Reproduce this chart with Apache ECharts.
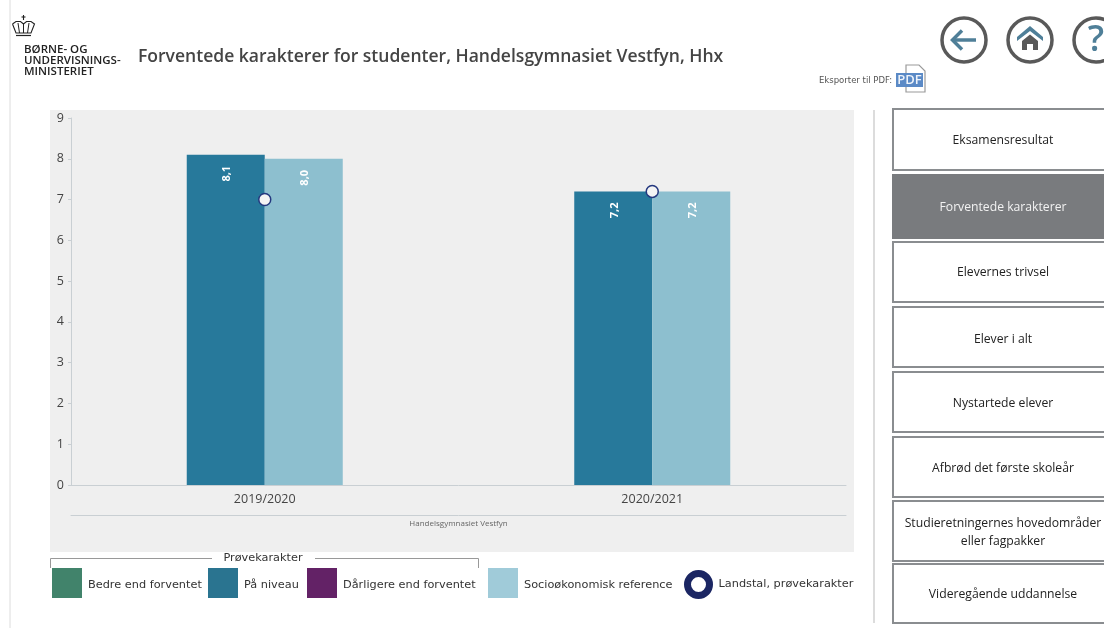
<!DOCTYPE html>
<html>
<head>
<meta charset="utf-8">
<style>
  html, body { margin: 0; padding: 0; background: #fff; }
  #chart { width: 1104px; height: 628px; }
</style>
<script src="https://cdn.jsdelivr.net/npm/echarts@6/dist/echarts.min.js"></script>
</head>
<body>
<div id="chart"></div>
<script>
  const years = ['2019/2020', '2020/2021']
  const schoolName = ['Handelsgymnasiet Vestfyn']
  const yTicks = [0, 1, 2, 3, 4, 5, 6, 7, 8, 9]

  // karakterer
  const bedre = [null, null]
  const paaNiveau = [8.1, 7.2]
  const daarligere = [null, null]
  const reference = [8.0, 7.2]
  const landstal = [7.0, 7.2]

  const navLabels = [
    'Eksamensresultat',
    'Forventede karakterer',
    'Elevernes trivsel',
    'Elever i alt',
    'Nystartede elever',
    'Afbrød det første skoleår',
    'Studieretningernes hovedområder\neller fagpakker',
    'Videregående uddannelse'
  ]
  const navTops = [109, 175, 242, 307, 372, 437, 501, 564]
  const navBottoms = [170, 238, 302, 367, 432, 497, 561, 623]
  const navTextY = [141, 208, 273, 340, 404, 469, 533, 595]
  const activeNav = 1

  const sans = '"Open Sans", sans-serif'
  const verdana = '"DejaVu Sans", sans-serif'
  const axisGrey = '#c9cfd3'
  const textGrey = '#444'

  const barLabel = {
    show: true,
    position: 'insideTop',
    rotate: 90,
    distance: 19,
    offset: [0, -4],
    color: '#fff',
    fontFamily: sans,
    fontWeight: 700,
    fontSize: 11,
    formatter: (p) => String(p.value.toFixed(1)).replace('.', ',')
  }

  // menu til hoejre
  const navGraphics = []
  navLabels.forEach((label, i) => {
    const active = i === activeNav
    navGraphics.push({
      type: 'rect',
      shape: { x: 893, y: navTops[i], width: 230, height: navBottoms[i] - navTops[i] },
      style: { fill: active ? '#797b7e' : '#fff', stroke: active ? '#797b7e' : '#8a8d90', lineWidth: 2 }
    })
    navGraphics.push({
      type: 'text',
      style: {
        text: label,
        x: 1003,
        y: navTextY[i],
        align: 'center',
        verticalAlign: 'middle',
        fill: active ? '#f2f2f2' : '#222',
        font: '12.2px ' + sans,
        lineHeight: 18
      }
    })
  })

  const ring = (cx) => ({
    type: 'circle',
    shape: { cx: cx, cy: 40, r: 22 },
    style: { fill: '#fff', stroke: '#595959', lineWidth: 3.5 }
  })
  const stroke = (points, color, width) => ({
    type: 'polyline',
    shape: { points: points },
    style: { fill: 'none', stroke: color, lineWidth: width }
  })
  const solid = (points, color) => ({
    type: 'polygon',
    shape: { points: points },
    style: { fill: color }
  })

  const headerGraphics = [
    { type: 'rect', z: -5, shape: { x: 50, y: 110, width: 804, height: 442 }, style: { fill: '#efefef' } },
    { type: 'line', shape: { x1: 10, y1: 0, x2: 10, y2: 628 }, style: { stroke: '#dcdcdc', lineWidth: 1 } },
    { type: 'line', shape: { x1: 874, y1: 110, x2: 874, y2: 623 }, style: { stroke: '#dcdcdc', lineWidth: 2 } },

    // krone
    stroke([[23.5, 15], [23.5, 20]], '#222', 1.1),
    stroke([[21.5, 17], [25.5, 17]], '#222', 1.1),
    stroke([[12.5, 24], [16, 21.5], [20.5, 21.5], [23.5, 24], [26.5, 21.5], [31, 21.5], [34.5, 24], [31, 33], [16, 33], [12.5, 24]], '#222', 1.1),
    stroke([[18, 23], [19.5, 33]], '#222', 1),
    stroke([[23.5, 24], [23.5, 33]], '#222', 1),
    stroke([[29, 23], [27.5, 33]], '#222', 1),
    stroke([[16, 35.5], [31, 35.5]], '#222', 1.2),
    { type: 'text', style: { text: 'BØRNE- OG', x: 24, y: 49.5, verticalAlign: 'middle', fill: '#222', font: '600 11.5px ' + sans } },
    { type: 'text', style: { text: 'UNDERVISNINGS-', x: 24, y: 60.5, verticalAlign: 'middle', fill: '#222', font: '600 11.5px ' + sans } },
    { type: 'text', style: { text: 'MINISTERIET', x: 24, y: 71.5, verticalAlign: 'middle', fill: '#222', font: '600 11.5px ' + sans } },

    { type: 'text', style: { text: 'Forventede karakterer for studenter, Handelsgymnasiet Vestfyn, Hhx', x: 138, y: 57, verticalAlign: 'middle', fill: '#444', font: '600 17.55px ' + sans } },
    { type: 'text', style: { text: 'Eksporter til PDF:', x: 819, y: 81, verticalAlign: 'middle', fill: '#555', font: '8.5px ' + verdana } },

    // pdf ikon
    {
      type: 'polygon',
      shape: { points: [[906, 65], [919, 65], [925, 71], [925, 92], [906, 92]] },
      style: { fill: '#fff', stroke: '#9a9a9a', lineWidth: 1.2 }
    },
    { type: 'rect', shape: { x: 896, y: 73, width: 27, height: 14 }, style: { fill: '#5b8ac6' } },
    { type: 'text', style: { text: 'PDF', x: 909.5, y: 80.5, align: 'center', verticalAlign: 'middle', fill: '#eef3fa', font: '600 13px ' + sans } },

    // tilbage
    ring(964),
    stroke([[976, 40], [954, 40]], '#4f7f98', 3.5),
    stroke([[962, 30.5], [952.5, 40], [962, 49.5]], '#4f7f98', 3.5),
    // hjem
    ring(1030),
    solid([[1017, 37], [1030, 26], [1043, 37], [1043, 41], [1030, 31], [1017, 41]], '#4f7f98'),
    solid([[1022, 41], [1030, 34.5], [1038, 41], [1038, 50], [1033, 50], [1033, 44], [1027, 44], [1027, 50], [1022, 50]], '#595959'),
    // hjaelp
    ring(1096),
    { type: 'text', style: { text: '?', x: 1096, y: 41, align: 'center', verticalAlign: 'middle', fill: '#4f7f98', font: '600 36px ' + sans } },

    // klamme over legend
    stroke([[50.5, 568], [50.5, 558.5], [212, 558.5]], '#999', 1),
    stroke([[315, 558.5], [478.5, 558.5], [478.5, 568]], '#999', 1),
    { type: 'text', style: { text: 'Prøvekarakter', x: 263, y: 558, align: 'center', verticalAlign: 'middle', fill: '#333', font: '11.3px ' + verdana } }
  ]

  const legendAt = (name, left, top, extra) => ({
    show: true,
    left: left,
    top: top,
    padding: 0,
    selectedMode: false,
    itemWidth: 30,
    itemHeight: 30,
    formatter: '{a|{name}}',
    textStyle: {
      rich: { a: { color: '#333', fontFamily: verdana, fontSize: 11.3, padding: [4, 0, 0, 1] } }
    },
    data: [Object.assign({ name: name, icon: 'rect' }, extra)]
  })

  const myChart = echarts.init(document.getElementById('chart'), null, { renderer: 'canvas' })
  myChart.setOption({
    animation: false,
    backgroundColor: '#fff',
    graphic: { elements: headerGraphics.concat(navGraphics) },
    grid: { left: 71, right: 258, top: 118, height: 367, containLabel: false },
    legend: [
      legendAt('Bedre end forventet', 52, 568, { itemStyle: { color: '#41836b' } }),
      legendAt('På niveau', 208, 568, { itemStyle: { color: '#2a7490' } }),
      legendAt('Dårligere end forventet', 307, 568, { itemStyle: { color: '#632266' } }),
      legendAt('Socioøkonomisk reference', 488, 568, { itemStyle: { color: '#a0cbd9' } }),
      Object.assign(legendAt('Landstal, prøvekarakter', 684, 570, {
        icon: 'circle',
        itemStyle: { color: '#fff', borderColor: '#1b2663', borderWidth: 7 }
      }), {
        itemWidth: 22,
        itemHeight: 22,
        formatter: '{name}',
        textStyle: { color: '#333', fontFamily: verdana, fontSize: 11.3, padding: [0, 0, 0, 4] }
      })
    ],
    xAxis: [
      {
        type: 'category',
        data: years,
        axisLine: { lineStyle: { color: axisGrey } },
        axisTick: { alignWithLabel: true, length: 4, lineStyle: { color: axisGrey } },
        axisLabel: { color: textGrey, fontFamily: sans, fontSize: 12.5, margin: 8 }
      },
      {
        type: 'category',
        position: 'bottom',
        offset: 30,
        data: schoolName,
        axisLine: { lineStyle: { color: axisGrey } },
        axisTick: { inside: true, length: 3, lineStyle: { color: '#b5bbbf' } },
        axisLabel: { color: '#666', fontFamily: sans, fontSize: 8, margin: 5 }
      }
    ],
    yAxis: {
      type: 'value',
      min: 0,
      max: 9,
      interval: 1,
      splitLine: { show: false },
      axisLine: { show: true, lineStyle: { color: axisGrey } },
      axisTick: { show: true, length: 3, lineStyle: { color: axisGrey } },
      axisLabel: { color: textGrey, fontFamily: sans, fontSize: 12.5, margin: 7, formatter: (v) => (yTicks.includes(v) ? String(v) : '') }
    },
    series: [
      { name: 'Bedre end forventet', type: 'bar', stack: 'elev', barWidth: 78, barGap: 0, data: bedre, itemStyle: { color: '#41836b' } },
      {
        name: 'På niveau', type: 'bar', stack: 'elev', barWidth: 78, barGap: 0, data: paaNiveau,
        itemStyle: { color: '#27799b' }, label: barLabel
      },
      { name: 'Dårligere end forventet', type: 'bar', stack: 'elev', barWidth: 78, barGap: 0, data: daarligere, itemStyle: { color: '#632266' } },
      {
        name: 'Socioøkonomisk reference', type: 'bar', barWidth: 78, barGap: 0, data: reference,
        itemStyle: { color: '#8dbfcf' }, label: barLabel
      },
      {
        name: 'Landstal, prøvekarakter', type: 'scatter', data: landstal, symbol: 'circle', symbolSize: 12, z: 5,
        itemStyle: { color: '#f4f4f4', borderColor: '#24387f', borderWidth: 1.5, opacity: 1 }
      }
    ]
  })
</script>
</body>
</html>
